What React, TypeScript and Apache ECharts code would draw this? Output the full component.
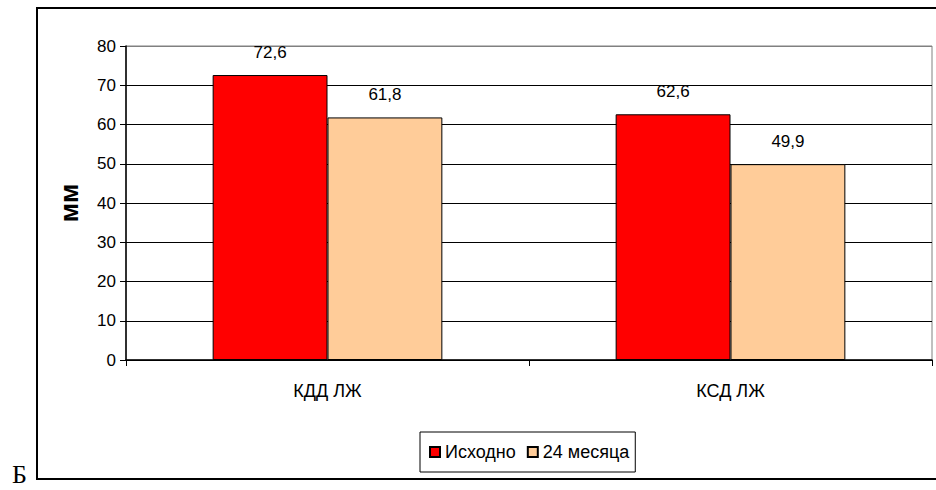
import React, { useEffect, useRef } from "react";
import * as echarts from "echarts";

const categories = ["КДД ЛЖ", "КСД ЛЖ"];
const seriesNames = ["Исходно", "24 месяца"];
const baseline = [72.6, 62.6];
const month24 = [61.8, 49.9];
const yTicks = [0, 10, 20, 30, 40, 50, 60, 70, 80];

const FONT = "'Liberation Sans', Arial, sans-serif";

export default function App() {
  const ref = useRef<HTMLDivElement>(null);

  useEffect(() => {
    if (!ref.current) return;
    const chart = echarts.init(ref.current, null, { renderer: "svg" });
    const fmt = (p: any) => String(p.value).replace(".", ",");
    const labelStyle = {
      show: true,
      position: "top" as const,
      distance: 14,
      formatter: fmt,
      color: "#000",
      fontFamily: FONT,
      fontSize: 17,
    };
    chart.setOption({
      animation: false,
      backgroundColor: "#fff",
      textStyle: { fontFamily: FONT },
      graphic: [
        {
          type: "rect",
          shape: { x: 37, y: 8, width: 940, height: 471 },
          style: { fill: "none", stroke: "#000", lineWidth: 2 },
          silent: true,
          z: -1,
        },
        {
          type: "text",
          x: 12,
          y: 461,
          style: {
            text: "Б",
            fill: "#000",
            font: "26px 'Liberation Serif', 'Times New Roman', serif",
          },
        },
      ],
      grid: {
        left: 126,
        right: 4,
        top: 46,
        bottom: 130,
        show: true,
        borderColor: "#808080",
        borderWidth: 1,
        containLabel: false,
      },
      legend: {
        data: seriesNames,
        left: 420,
        top: 432,
        orient: "horizontal",
        icon: "rect",
        itemWidth: 10,
        itemHeight: 10,
        itemGap: 11,
        padding: [11, 6, 11, 9],
        borderColor: "#000",
        borderWidth: 1,
        textStyle: { color: "#000", fontFamily: FONT, fontSize: 18 },
      },
      xAxis: {
        type: "category",
        data: categories,
        axisLine: { lineStyle: { color: "#000", width: 1.5 } },
        axisTick: { show: true, length: 6, lineStyle: { color: "#000" } },
        axisLabel: { color: "#000", fontFamily: FONT, fontSize: 18, margin: 22 },
      },
      yAxis: {
        type: "value",
        min: 0,
        max: 80,
        interval: 10,
        name: "мм",
        nameLocation: "middle",
        nameGap: 44,
        nameTextStyle: {
          color: "#000",
          fontFamily: FONT,
          fontSize: 26,
          fontWeight: "bold",
        },
        axisLine: { show: true, lineStyle: { color: "#000", width: 1.5 } },
        axisTick: { show: true, length: 6, lineStyle: { color: "#000" } },
        axisLabel: {
          color: "#000",
          fontFamily: FONT,
          fontSize: 17,
          margin: 10,
          formatter: (v: number) => (yTicks.includes(v) ? String(v) : ""),
        },
        splitLine: {
          show: true,
          lineStyle: {
            color: ["#000", "#000", "#000", "#000", "#000", "#000", "#000", "#000", "#808080"],
            width: 1,
          },
        },
      },
      series: [
        {
          name: seriesNames[0],
          type: "bar",
          data: baseline,
          barCategoryGap: "43%",
          barGap: "0%",
          itemStyle: { color: "#FF0000", borderColor: "#000", borderWidth: 1 },
          label: labelStyle,
        },
        {
          name: seriesNames[1],
          type: "bar",
          data: month24,
          itemStyle: { color: "#FFCC99", borderColor: "#000", borderWidth: 1 },
          label: labelStyle,
        },
      ],
    });
    return () => chart.dispose();
  }, []);

  return (
    <div
      ref={ref}
      style={{ position: "fixed", left: 0, top: 0, width: 936, height: 490, background: "#fff" }}
    />
  );
}
